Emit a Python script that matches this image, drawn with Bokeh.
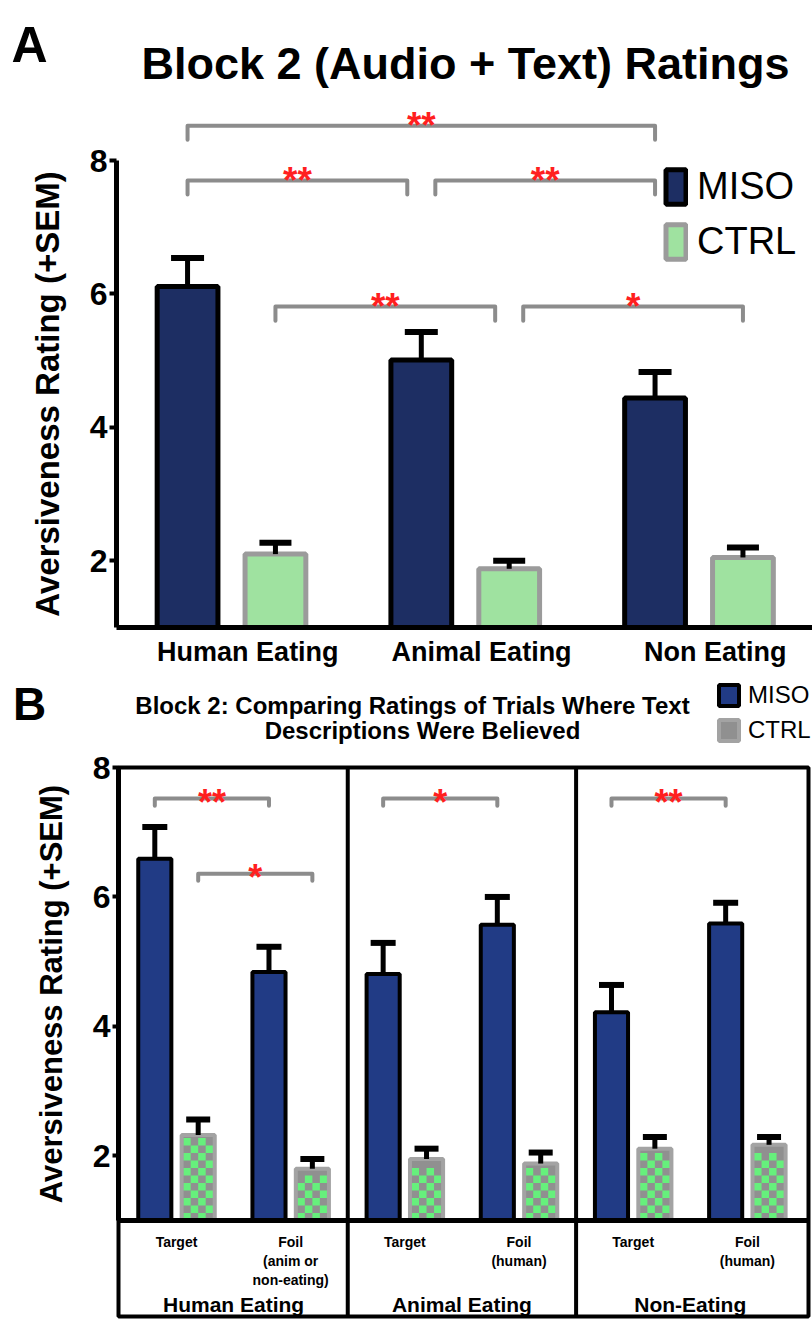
import numpy as np
from bokeh.plotting import figure
from bokeh.layouts import column
from bokeh.models import (ColumnDataSource, Range1d, FixedTicker, Whisker, TeeHead,
                          Legend, LegendItem, Label, LinearAxis)
from bokeh.transform import dodge
from bokeh.core.properties import value
from bokeh.embed import file_html
from bokeh.resources import INLINE

FONT = "Liberation Sans"

# ---------------- Panel A data ----------------
a_categories = ["Human Eating", "Animal Eating", "Non Eating"]
a_miso = [6.11, 5.01, 4.44]
a_miso_sem = [0.43, 0.42, 0.39]
a_ctrl = [2.10, 1.88, 2.05]
a_ctrl_sem = [0.17, 0.12, 0.15]
a_title = "Block 2 (Audio + Text) Ratings"
y_ticks = [2, 4, 6, 8]
y_label = "Aversiveness Rating (+SEM)"
a_sig = [  # (from category, series, to category, series, bracket height, label)
    ("Human Eating", "MISO", "Non Eating", "MISO", 8.52, "**"),
    ("Human Eating", "MISO", "Animal Eating", "MISO", 7.70, "**"),
    ("Animal Eating", "MISO", "Non Eating", "MISO", 7.70, "**"),
    ("Human Eating", "CTRL", "Animal Eating", "CTRL", 5.81, "**"),
    ("Animal Eating", "CTRL", "Non Eating", "CTRL", 5.81, "*"),
]

# ---------------- Panel B data ----------------
b_groups = ["Human Eating", "Animal Eating", "Non-Eating"]
b_subgroups = [["Target", "Foil\n(anim or\nnon-eating)"],
               ["Target", "Foil\n(human)"],
               ["Target", "Foil\n(human)"]]
b_miso = [6.59, 4.84, 4.81, 5.57, 4.22, 5.59]
b_miso_sem = [0.49, 0.39, 0.48, 0.43, 0.42, 0.32]
b_ctrl = [2.32, 1.80, 1.95, 1.88, 2.11, 2.17]
b_ctrl_sem = [0.24, 0.15, 0.16, 0.17, 0.18, 0.12]
b_title = ["Block 2: Comparing Ratings of Trials Where Text", "Descriptions Were Believed"]
b_sig = [  # (from bar index, series, to bar index, series, bracket height, label)
    (0, "MISO", 1, "MISO", 7.52, "**"),
    (0, "CTRL", 1, "CTRL", 6.36, "*"),
    (2, "MISO", 3, "MISO", 7.52, "*"),
    (4, "MISO", 5, "MISO", 7.52, "**"),
]

# ---------------- styles ----------------
STAR = "#ff1f1f"
BRACKET = "#8c8c8c"
A_MISO = dict(fill_color="#1d2e63", line_color="black", line_width=5)
A_CTRL = dict(fill_color="#9fe2a0", line_color="#9b9b9b", line_width=5)
B_MISO = dict(fill_color="#213b85", line_color="black", line_width=4)
B_CTRL_BASE = "#909090"
B_CTRL_SQ = "#66f07c"
B_CTRL_LINE = "#a3a3a3"
A_LABEL_SHIFT = 0.07   # category labels sit slightly right of the bar pairs


def style_common(p):
    p.outline_line_color = None
    p.xgrid.visible = False
    p.ygrid.visible = False
    p.background_fill_color = "white"
    p.border_fill_color = "white"
    p.title.visible = False


def style_yaxis(ax, standoff, tick_out, loc, label_size):
    ax.fixed_location = loc
    ax.bounds = (1, 8)
    ax.ticker = FixedTicker(ticks=y_ticks)
    ax.minor_tick_line_color = None
    ax.major_tick_in = 0
    ax.major_tick_out = tick_out
    ax.major_tick_line_width = 4
    ax.axis_line_width = 5
    ax.major_label_text_font = FONT
    ax.major_label_text_font_style = "bold"
    ax.major_label_text_font_size = "32px"
    ax.major_label_text_color = "black"
    ax.major_label_standoff = 2
    ax.axis_label = y_label
    ax.axis_label_text_font = FONT
    ax.axis_label_text_font_style = "bold"
    ax.axis_label_text_font_size = label_size
    ax.axis_label_text_color = "black"
    ax.axis_label_standoff = standoff


def bracket_lines(p, xs0, xs1, levels, labels, drop, width, star_size, star_dy):
    xs, ys = [], []
    for x0, x1, lv in zip(xs0, xs1, levels):
        xs.append([x0, x0, x1, x1])
        ys.append([lv - drop, lv, lv, lv - drop])
    p.multi_line(xs=xs, ys=ys, line_color=BRACKET, line_width=width,
                 line_join="round", line_cap="round")
    p.text(x=[(a + b) / 2 for a, b in zip(xs0, xs1)], y=list(levels), text=list(labels),
           text_color=STAR, text_font=value(FONT), text_font_style="bold",
           text_font_size=value(star_size), text_align="center",
           text_baseline="alphabetic", y_offset=star_dy)


def text_label(p, x, y, text, size, baseline="middle"):
    p.add_layout(Label(x=x, y=y, text=text, text_font=FONT, text_font_style="bold",
                       text_font_size=size, text_align="center", text_baseline=baseline,
                       text_color="black"))


# ======================= Panel A =======================
A_W, A_H = 812, 668
A_UX, A_UY = 233.75, 66.71          # px per category / per rating unit
A_X0PX, A_Y1PX = 231, 627            # pixel of first category centre / of rating 1
A_AXIS_PX = 116                      # pixel of the y axis line
ax_ = lambda px: (px - A_X0PX) / A_UX
ay_ = lambda px: 1 + (A_Y1PX - px) / A_UY

pa = figure(width=A_W, height=A_H, output_backend="svg", toolbar_location=None,
            x_range=Range1d(ax_(0), ax_(A_W)), y_range=Range1d(ay_(A_H), ay_(0)),
            min_border_left=0, min_border_right=0, min_border_top=0, min_border_bottom=0)
style_common(pa)

OFF_A, W_A = 0.188, 0.26
a_idx = list(range(len(a_categories)))
src_a = ColumnDataSource(dict(
    x=a_idx, miso=a_miso, ctrl=a_ctrl,
    miso_hi=[m + s for m, s in zip(a_miso, a_miso_sem)],
    ctrl_hi=[c + s for c, s in zip(a_ctrl, a_ctrl_sem)]))

r_am = pa.vbar(x=dodge("x", -OFF_A), top="miso", bottom=1, width=W_A, source=src_a, **A_MISO)
r_ac = pa.vbar(x=dodge("x", OFF_A), top="ctrl", bottom=1, width=W_A, source=src_a, **A_CTRL)
pa.add_layout(Whisker(source=src_a, base=dodge("x", -OFF_A), lower="miso", upper="miso_hi",
                      line_width=5, line_color="black", level="overlay",
                      upper_head=TeeHead(size=33, line_width=6, line_color="black"), lower_head=None))
pa.add_layout(Whisker(source=src_a, base=dodge("x", OFF_A), lower="ctrl", upper="ctrl_hi",
                      line_width=5, line_color="black", level="overlay",
                      upper_head=TeeHead(size=32, line_width=6, line_color="black"), lower_head=None))

offs = {"MISO": -OFF_A, "CTRL": OFF_A}
GAP_A = 0.06
xs0, xs1, lv, lb = [], [], [], []
for (c0, s0, c1, s1, h, lab) in a_sig:
    x0 = a_categories.index(c0) + offs[s0]
    x1 = a_categories.index(c1) + offs[s1]
    shared_left = any(o[2] == c0 and o[3] == s0 and o[4] == h for o in a_sig)
    shared_right = any(o[0] == c1 and o[1] == s1 and o[4] == h for o in a_sig)
    xs0.append(x0 + (GAP_A if shared_left else 0))
    xs1.append(x1 - (GAP_A if shared_right else 0))
    lv.append(h)
    lb.append(lab)
bracket_lines(pa, xs0, xs1, lv, lb, drop=0.21, width=4, star_size="37px", star_dy=0)

style_yaxis(pa.yaxis[0], standoff=21, tick_out=7, loc=ax_(A_AXIS_PX), label_size="33px")
xa = pa.xaxis[0]
xa.fixed_location = 1
xa.bounds = (ax_(A_AXIS_PX), ax_(A_W))
a_label_pos = [i + A_LABEL_SHIFT for i in a_idx]
xa.ticker = FixedTicker(ticks=a_label_pos)
xa.major_label_overrides = {t: c for t, c in zip(a_label_pos, a_categories)}
xa.major_tick_line_color = None
xa.minor_tick_line_color = None
xa.axis_line_width = 5
xa.major_label_text_font = FONT
xa.major_label_text_font_style = "bold"
xa.major_label_text_font_size = "27px"
xa.major_label_text_color = "black"
xa.major_label_standoff = 3

leg_a = Legend(items=[LegendItem(label="MISO", renderers=[r_am]),
                      LegendItem(label="CTRL", renderers=[r_ac])],
               location=(663, A_H - 263), orientation="vertical", glyph_width=25, glyph_height=43,
               spacing=12, padding=0, margin=0, label_standoff=9,
               label_text_font=FONT, label_text_font_size="38px", label_text_color="black",
               border_line_color=None, background_fill_alpha=0)
pa.add_layout(leg_a)

text_label(pa, ax_(465), ay_(63), a_title, "45px")
text_label(pa, ax_(29), ay_(44), "A", "50px")

# ======================= Panel B =======================
B_W, B_H = 812, 651
B_UX, B_UY = 114.17, 64.71
B_X0PX, B_Y1PX = 176, 552
B_AXIS_PX, B_RIGHT_PX, B_BOTTOM_PX = 118, 808, 648
bx_ = lambda px: (px - B_X0PX) / B_UX
by_ = lambda px: 1 + (B_Y1PX - px) / B_UY

pb = figure(width=B_W, height=B_H, output_backend="svg", toolbar_location=None,
            x_range=Range1d(bx_(0), bx_(B_W)), y_range=Range1d(by_(B_H), by_(0)),
            min_border_left=0, min_border_right=0, min_border_top=0, min_border_bottom=0)
style_common(pb)

sub_labels = [s for subs in b_subgroups for s in subs]
b_idx = list(range(len(sub_labels)))
OFF_B, W_B = 0.19, 0.29
src_b = ColumnDataSource(dict(
    x=b_idx, miso=b_miso, ctrl=b_ctrl,
    miso_hi=[m + s for m, s in zip(b_miso, b_miso_sem)],
    ctrl_hi=[c + s for c, s in zip(b_ctrl, b_ctrl_sem)]))

# table box and group dividers
box_l, box_r, box_b = bx_(B_AXIS_PX), bx_(B_RIGHT_PX), by_(B_BOTTOM_PX)
pb.quad(left=[box_l], right=[box_r], bottom=[box_b], top=[8], fill_color=None,
        line_color="black", line_width=4)
sizes = [len(s) for s in b_subgroups]
dividers = [b - 0.5 for b in np.cumsum(sizes)[:-1]]
pb.segment(x0=dividers, x1=dividers, y0=box_b, y1=8, line_color="black", line_width=4)

r_bm = pb.vbar(x=dodge("x", -OFF_B), top="miso", bottom=1, width=W_B, source=src_b, **B_MISO)
r_bc_fill = pb.vbar(x=dodge("x", OFF_B), top="ctrl", bottom=1, width=W_B, source=src_b,
                    fill_color=B_CTRL_BASE, line_color=None)
# coarse green / grey checker inside the CTRL bars
CELL = 7.5
cx, cy = [], []
for i, top in zip(b_idx, b_ctrl):
    rows = int(((top - 1) * B_UY - 2) // CELL)
    for r in range(rows):
        for c in range(4):
            if (r + c) % 2 == 0:
                cx.append(i + OFF_B + (c - 1.5) * CELL / B_UX)
                cy.append(1 + (r + 0.5) * CELL / B_UY)
pb.rect(x=cx, y=cy, width=CELL, height=CELL, width_units="screen", height_units="screen",
        fill_color=B_CTRL_SQ, line_color=None)
r_bc = pb.vbar(x=dodge("x", OFF_B), top="ctrl", bottom=1, width=W_B, source=src_b,
               fill_color=None, line_color=B_CTRL_LINE, line_width=4)

pb.add_layout(Whisker(source=src_b, base=dodge("x", -OFF_B), lower="miso",
                      upper="miso_hi", line_width=5, line_color="black", level="overlay",
                      upper_head=TeeHead(size=25, line_width=6, line_color="black"), lower_head=None))
pb.add_layout(Whisker(source=src_b, base=dodge("x", OFF_B), lower="ctrl",
                      upper="ctrl_hi", line_width=5, line_color="black", level="overlay",
                      upper_head=TeeHead(size=24, line_width=6, line_color="black"), lower_head=None))

offs_b = {"MISO": -OFF_B, "CTRL": OFF_B}
bx0 = [i0 + offs_b[s0] for (i0, s0, i1, s1, h, lab) in b_sig]
bx1 = [i1 + offs_b[s1] for (i0, s0, i1, s1, h, lab) in b_sig]
bracket_lines(pb, bx0, bx1, [s[4] for s in b_sig], [s[5] for s in b_sig], drop=0.11, width=4,
              star_size="36px", star_dy=4)

style_yaxis(pb.yaxis[0], standoff=21, tick_out=6, loc=box_l, label_size="31px")

xb = pb.xaxis[0]
xb.fixed_location = 1
xb.bounds = (box_l, box_r)
xb.ticker = FixedTicker(ticks=b_idx)
xb.major_label_overrides = {i: s for i, s in zip(b_idx, sub_labels)}
xb.axis_line_width = 5
xb.major_tick_line_color = None
xb.minor_tick_line_color = None
xb.major_label_text_font = FONT
xb.major_label_text_font_style = "bold"
xb.major_label_text_font_size = "14px"
xb.major_label_text_color = "black"
xb.major_label_standoff = 7

group_centers = []
start = 0
for n in sizes:
    group_centers.append(start + (n - 1) / 2)
    start += n
xg = LinearAxis(fixed_location=by_(616), ticker=FixedTicker(ticks=group_centers),
                major_label_overrides={c: g for c, g in zip(group_centers, b_groups)},
                axis_line_color=None, major_tick_line_color=None, minor_tick_line_color=None,
                major_label_text_font=FONT, major_label_text_font_style="bold",
                major_label_text_font_size="21px", major_label_text_color="black",
                major_label_standoff=2)
pb.add_layout(xg, "below")

leg_b = Legend(items=[LegendItem(label="MISO", renderers=[r_bm]),
                      LegendItem(label="CTRL", renderers=[r_bc_fill, r_bc])],
               location=(716, B_H - 76), orientation="vertical", glyph_width=25, glyph_height=26,
               spacing=7, padding=0, margin=0, label_standoff=7, label_height=26,
               label_text_font=FONT, label_text_font_size="24px", label_text_color="black",
               border_line_color=None, background_fill_alpha=0)
pb.add_layout(leg_b)

text_label(pb, bx_(412), by_(37), b_title[0], "24px")
text_label(pb, bx_(422), by_(62), b_title[1], "24px")
text_label(pb, bx_(29), by_(35), "B", "46px", baseline="alphabetic")

layout = column(pa, pb, spacing=0)
open("out.html", "w").write(file_html(layout, INLINE, title="Block 2 ratings"))
